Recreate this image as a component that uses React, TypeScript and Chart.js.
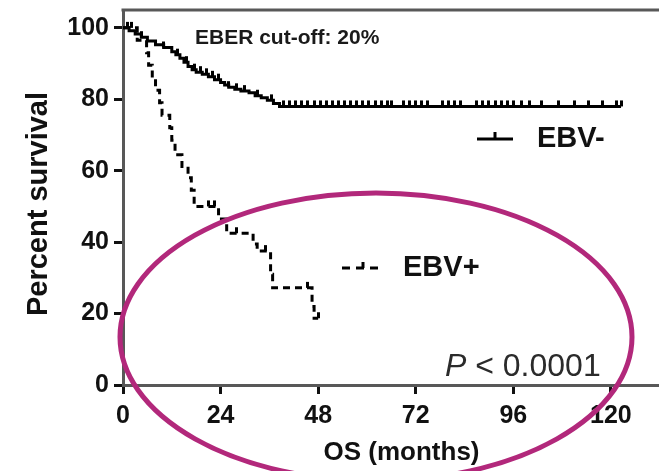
import React, { useEffect, useRef } from "react";
import { Chart, registerables } from "chart.js";

Chart.register(...registerables);

// ---- data ----
const xTickValues = [0, 24, 48, 72, 96, 120];
const yTickValues = [0, 20, 40, 60, 80, 100];

const ebvNegMonths = [0, 1.5, 3, 4.5, 6, 8, 10, 12, 13, 14, 15, 16, 17, 18, 19.5, 21, 22.5, 24, 25, 26, 27.5, 29, 31, 32.5, 34, 35.5, 37, 38.5, 122.5];
const ebvNegSurvival = [100, 99.2, 98.3, 97.4, 96.3, 95.3, 94.5, 93.3, 92.5, 91.5, 90.4, 89.2, 88.3, 87.6, 87, 86.3, 85.5, 84.7, 84, 83.4, 82.8, 82.3, 81.8, 81, 80.4, 79.7, 78.8, 78, 78];
const ebvNegCensorMonths = [1, 4.5, 10, 13.5, 15.5, 17.5, 19, 20.5, 22, 23.5, 26, 28, 30, 33, 36.5, 39.5, 41, 42.5, 44, 45.5, 47, 48.5, 50, 51.5, 53, 54.5, 56, 57.5, 59, 60.5, 62, 63.5, 65, 66, 69, 70.5, 72, 73.5, 75, 78.5, 80, 81.5, 83, 87, 88.5, 90, 91.5, 93, 94.5, 96, 98, 100, 103, 107, 111, 114.5, 118, 121.5, 122.5];

const ebvPosMonths = [0, 3.5, 5.8, 6.3, 7.2, 8, 9, 9.6, 11.5, 12, 12.8, 14.5, 16, 16.8, 17.5, 23.5, 25.5, 32, 33, 36.3, 36.8, 46.5, 47, 48];
const ebvPosSurvival = [100, 96.5, 93, 89.5, 86, 82.5, 79, 75.5, 72, 68.5, 64.5, 61.2, 58, 54.5, 50, 46.5, 42.5, 39.5, 37.5, 31, 27.2, 22, 18.7, 18.7];
const ebvPosCensorMonths = [2, 21, 22.5, 28, 35, 45.5, 48];

const FONT = "'Liberation Sans', Arial, Helvetica, sans-serif";

function survivalAt(months: number[], surv: number[], t: number) {
  let s = surv[0];
  for (let i = 0; i < months.length; i++) {
    if (months[i] <= t) s = surv[i];
  }
  return s;
}

function makeTickImage() {
  const c = document.createElement("canvas");
  c.width = 3;
  c.height = 14;
  const g = c.getContext("2d")!;
  g.fillStyle = "#000";
  g.fillRect(0, 1, 3, 6);
  return c;
}

export default function App() {
  const ref = useRef<HTMLCanvasElement | null>(null);

  useEffect(() => {
    const canvas = ref.current!;
    const tickImg = makeTickImage();

    const negLine = ebvNegMonths.map((m, i) => ({ x: m, y: ebvNegSurvival[i] }));
    const posLine = ebvPosMonths.map((m, i) => ({ x: m, y: ebvPosSurvival[i] }));
    const negCens = ebvNegCensorMonths.map((m) => ({ x: m, y: survivalAt(ebvNegMonths, ebvNegSurvival, m) }));
    const posCens = ebvPosCensorMonths.map((m) => ({ x: m, y: survivalAt(ebvPosMonths, ebvPosSurvival, m) }));

    const decor = {
      id: "decor",
      afterDraw(chart: any) {
        const ctx = chart.ctx as CanvasRenderingContext2D;
        const area = chart.chartArea;
        ctx.save();
        // top frame
        ctx.strokeStyle = "#585858";
        ctx.lineWidth = 3;
        ctx.beginPath();
        ctx.moveTo(area.left - 1.5, area.top);
        ctx.lineTo(chart.width, area.top);
        ctx.stroke();

        // y axis title
        ctx.save();
        ctx.translate(39, 204);
        ctx.rotate(-Math.PI / 2);
        ctx.fillStyle = "#111";
        ctx.font = `bold 29px ${FONT}`;
        ctx.textAlign = "center";
        ctx.textBaseline = "middle";
        ctx.fillText("Percent survival", 0, 0);
        ctx.restore();

        // annotation text
        ctx.fillStyle = "#1a1a1a";
        ctx.textBaseline = "middle";
        ctx.textAlign = "left";
        ctx.font = `bold 21px ${FONT}`;
        ctx.fillText("EBER cut-off: 20%", 195, 38);

        // legend EBV-
        ctx.strokeStyle = "#000";
        ctx.lineWidth = 3;
        ctx.setLineDash([]);
        ctx.beginPath();
        ctx.moveTo(477, 139);
        ctx.lineTo(513, 139);
        ctx.moveTo(495, 139);
        ctx.lineTo(495, 132);
        ctx.stroke();
        ctx.font = `bold 29px ${FONT}`;
        ctx.fillStyle = "#111";
        ctx.fillText("EBV-", 537, 139);

        // legend EBV+
        ctx.beginPath();
        ctx.setLineDash([8, 6]);
        ctx.moveTo(342, 268);
        ctx.lineTo(380, 268);
        ctx.stroke();
        ctx.setLineDash([]);
        ctx.beginPath();
        ctx.moveTo(363, 268);
        ctx.lineTo(363, 262);
        ctx.stroke();
        ctx.fillText("EBV+", 403, 268);

        // p value
        ctx.fillStyle = "#2b2b2b";
        ctx.font = `italic 32px ${FONT}`;
        ctx.fillText("P", 445, 367);
        const pw = ctx.measureText("P").width;
        ctx.font = `32px ${FONT}`;
        ctx.fillText(" < 0.0001", 445 + pw, 367);

        // ellipse
        ctx.strokeStyle = "#b2287b";
        ctx.lineWidth = 5;
        ctx.beginPath();
        ctx.ellipse(376, 337, 256, 144, 0, 0, Math.PI * 2);
        ctx.stroke();
        ctx.restore();
      },
    };

    const chart = new Chart(canvas, {
      type: "line",
      data: {
        datasets: [
          {
            label: "EBV-",
            data: negLine,
            stepped: "before",
            borderColor: "#000",
            borderWidth: 3,
            pointRadius: 0,
            fill: false,
          },
          {
            label: "EBV+",
            data: posLine,
            stepped: "before",
            borderColor: "#000",
            borderWidth: 3,
            borderDash: [7, 5],
            pointRadius: 0,
            fill: false,
          },
          {
            label: "EBV- censored",
            data: negCens,
            showLine: false,
            pointStyle: tickImg as any,
            pointRadius: 4,
          },
          {
            label: "EBV+ censored",
            data: posCens,
            showLine: false,
            pointStyle: tickImg as any,
            pointRadius: 4,
          },
        ],
      },
      options: {
        animation: false,
        responsive: false,
        devicePixelRatio: 1,
        layout: { padding: { left: 0, right: 20, top: 10, bottom: 0 } },
        plugins: { legend: { display: false }, tooltip: { enabled: false } },
        scales: {
          x: {
            type: "linear",
            min: 0,
            max: 137,
            afterBuildTicks: (s: any) => {
              s.ticks = xTickValues.map((v) => ({ value: v }));
            },
            afterFit: (s: any) => {
              s.height = 86;
              s.paddingLeft = 0;
              s.paddingRight = 0;
            },
            border: { display: true, color: "#585858", width: 3 },
            grid: { display: true, drawOnChartArea: false, drawTicks: true, tickLength: 9, tickWidth: 3, tickColor: "#111" },
            ticks: { color: "#111", padding: 7, font: { family: FONT, size: 25, weight: "bold" }, maxRotation: 0 },
            title: { display: true, text: "OS (months)", color: "#111", font: { family: FONT, size: 26, weight: "bold" }, padding: { top: 0, bottom: 3 } },
          },
          y: {
            type: "linear",
            min: 0,
            max: 105,
            afterBuildTicks: (s: any) => {
              s.ticks = yTickValues.map((v) => ({ value: v }));
            },
            afterFit: (s: any) => {
              s.width = 123;
              s.paddingTop = 0;
              s.paddingBottom = 0;
            },
            border: { display: true, color: "#585858", width: 3 },
            grid: { display: true, drawOnChartArea: false, drawTicks: true, tickLength: 9, tickWidth: 3, tickColor: "#111" },
            ticks: { color: "#111", padding: 5, font: { family: FONT, size: 25, weight: "bold" } },
            title: { display: false },
          },
        },
      },
      plugins: [decor],
    } as any);

    return () => chart.destroy();
  }, []);

  return (
    <div style={{ position: "fixed", left: 0, top: 0, width: 659, height: 471, overflow: "hidden", background: "#fff" }}>
      <canvas ref={ref} width={700} height={471} style={{ display: "block", width: 700, height: 471 }} />
    </div>
  );
}
